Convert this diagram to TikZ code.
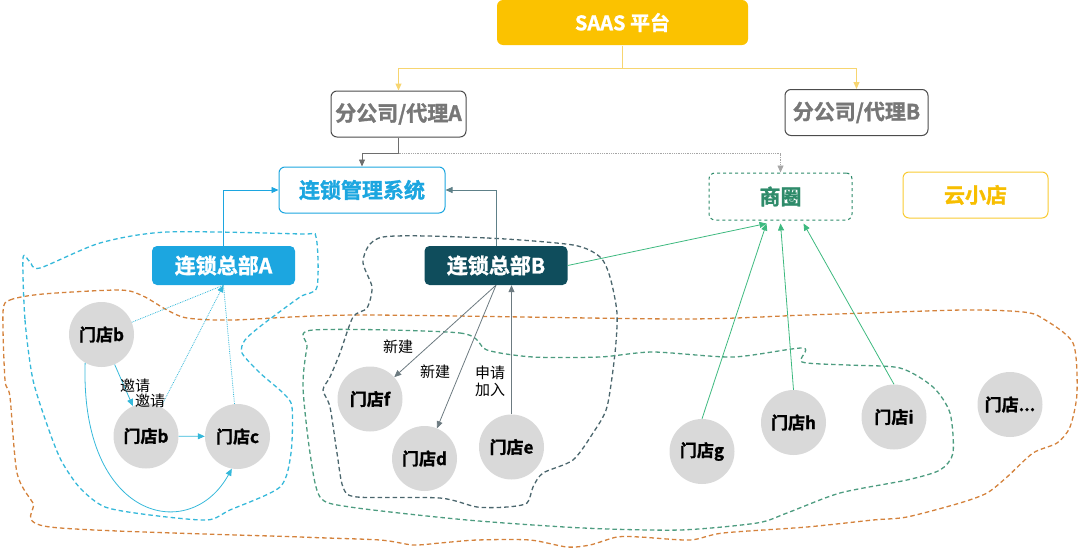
\documentclass[tikz,border=0pt]{standalone}
\usepackage{fontspec}
\setmainfont{Noto Sans CJK SC}[BoldFont={Noto Sans CJK SC Bold}, BoldFeatures={FakeBold=1.3}]
\usepackage{tikz}
\usetikzlibrary{arrows.meta, calc, positioning}
\definecolor{csaas}{HTML}{FBC200}
\definecolor{cyline}{HTML}{F7D570}
\definecolor{cgraytx}{HTML}{777777}
\definecolor{cgrayln}{HTML}{6E6E6E}
\definecolor{cslate}{HTML}{4A4F5A}
\definecolor{cblue}{HTML}{1CA6E0}
\definecolor{ccyan}{HTML}{35B8DA}
\definecolor{cteal}{HTML}{0F4D5C}
\definecolor{ctealln}{HTML}{5E8088}
\definecolor{cgreen}{HTML}{2E8B6A}
\definecolor{cgreenln}{HTML}{3DB97F}
\definecolor{cyun}{HTML}{F7BE00}
\definecolor{corange}{HTML}{D4823C}
\definecolor{cshop}{HTML}{D9D9D9}
\definecolor{cbgray}{HTML}{6C7A80}

\begin{document}
\begin{tikzpicture}[
  x=1pt, y=-1pt,
  box/.style={
    rectangle, rounded corners=6pt, draw, fill=white,
    line width=1pt, minimum height=46pt, inner sep=0pt,
    font=\bfseries\fontsize{21}{24}\selectfont
  },
  hqbox/.style={
    rectangle, rounded corners=5pt, text=white,
    minimum width=143pt, minimum height=39pt, inner sep=0pt,
    font=\bfseries\fontsize{21}{24}\selectfont
  },
  shop/.style={
    circle, fill=cshop, minimum size=65pt, inner sep=0pt,
    font=\bfseries\fontsize{17}{19}\selectfont
  },
  tag/.style={inner sep=0pt, font=\fontsize{15}{17}\selectfont},
  tipS/.style={-{Triangle[length=7pt, width=6pt]}},
  arrowY/.style={tipS, draw=cyline, line width=1pt},
  arrowA/.style={tipS, draw=cgrayln, line width=0.8pt},
  arrowC/.style={tipS, draw=ccyan, line width=0.8pt},
  arrowB/.style={tipS, draw=cbgray, line width=0.8pt},
  arrowG/.style={tipS, draw=cgreenln, line width=0.8pt},
  zone/.style={dash pattern=on 4.5pt off 3pt, line width=1.3pt},
]
\useasboundingbox (0,0) rectangle (1080,549);

% ============================================================
% Dashed zones (drawn first, they sit behind everything)
\draw[zone, draw=corange] plot[smooth cycle, tension=0.45] coordinates {
  (3,312) (10,300) (43,294) (120,290) (143,296) (167,310) (187,318) (233,320)
  (360,315) (680,319) (807,315) (963,310) (1023,312) (1042,318) (1073,343)
  (1077,393) (1070,427) (1057,443) (1033,453) (1007,477) (987,493) (960,503)
  (907,517) (873,520) (807,527) (723,533) (690,540) (640,537) (617,537)
  (590,545) (567,547) (530,540) (477,540) (440,543) (413,545) (380,540)
  (300,537) (50,527) (33,503) (17,473) (10,397) (5,380)};

\draw[zone, draw=ccyan] plot[smooth cycle, tension=0.45] coordinates {
  (23,258) (25,320) (33,380) (50,433) (62,462) (80,488) (105,507) (150,515)
  (207,520) (230,510) (280,487) (291,453) (292,407) (283,393) (260,373)
  (242,353) (245,340) (262,325) (300,297) (317,287) (316,237) (300,234)
  (167,232) (100,243) (40,268) (30,262)};

\draw[zone, draw=ctealln!80!black] plot[smooth cycle, tension=0.45] coordinates {
  (383,237) (487,238) (573,245) (600,257) (610,277) (617,313) (615,353)
  (607,407) (593,433) (573,460) (543,473) (533,487) (527,503) (507,507)
  (477,507) (440,498) (357,497) (343,487) (337,453) (330,407) (323,390)
  (330,377) (340,353) (353,317) (367,308) (372,287) (363,260)};

\draw[zone, draw=cgreen!85] plot[smooth cycle, tension=0.45] coordinates {
  (313,330) (460,333) (487,350) (533,357) (600,357) (653,352) (733,357)
  (803,348) (802,362) (847,365) (900,368) (933,387) (950,413) (953,453)
  (940,470) (907,480) (840,493) (787,513) (757,523) (680,530) (583,528)
  (467,520) (350,507) (320,497) (310,453) (303,387) (307,347)};

% ============================================================
% Top: platform and the two agents
\node[box, draw=none, fill=csaas, text=white, minimum width=251pt,
  minimum height=45pt, font=\bfseries\fontsize{20}{24}\selectfont]
  (saas) at (622.5,22.5) {SAAS 平台};
\node[box, draw=black!70, text=cgraytx, minimum width=135pt] (agA) at (398.5,114) {分公司/代理A};
\node[box, draw=black!70, text=cgraytx, minimum width=143pt] (agB) at (856.5,112.5) {分公司/代理B};

\draw[arrowY] (saas.south) -- ++(0,23) -| (agA.north);
\draw[arrowY] (saas.south) -- ++(0,23) -| (agB.north);

% Middle row: system, business circle, cloud shop
\node[box, draw=cblue, text=cblue, minimum width=166pt] (sys) at (362,190) {连锁管理系统};
\node[box, draw=cgreen, dashed, text=cgreen, minimum width=143pt, minimum height=47pt] (quan) at (780.5,196.5) {商圈};
\node[box, draw=cyun!80, text=cyun, minimum width=145pt] (yun) at (975.5,195) {云小店};

\draw[arrowA] (agA.south) -- ++(0,16) -| (sys.north);
\draw[tipS, draw=gray!70, densely dotted, line width=0.8pt] (agA.south) ++(0,16) -| (quan.north);

% Headquarters
\node[hqbox, fill=cblue] (hqA) at (223.5,265.5) {连锁总部A};
\node[hqbox, fill=cteal] (hqB) at (496,265.5) {连锁总部B};

\draw[arrowC, draw=cblue] (hqA.north) |- (sys.west);
\draw[arrowB, draw=ctealln] (hqB.north) |- (sys.east);
\draw[arrowG] (hqB.east) -- ($(quan.south)+(-14,3)$);

% ============================================================
% Shops
\foreach \name/\xx/\yy/\lbl in {
  sb1/101.5/334.5/b, sb2/146/436/b, sc/237.5/436.5/c,
  sf/370/399/f, sd/424.5/458.5/d, se/511.5/447/e,
  sg/702/451.5/g, sh/793.5/422.5/h, si/894/417/i} {
  \node[shop] (\name) at (\xx,\yy) {门店\lbl};
}
\node[shop] (sx) at (1010,404.5) {门店...};

% Chain A: invitations
\draw[arrowC] (sb1) -- (sb2);
\draw[arrowC] (sb2) -- (sc);
\draw[arrowC] (sb1.-120) .. controls (80,520) and (190,545) .. (sc.-100);
\draw[ccyan, densely dotted, line width=0.8pt] (sb1) -- (hqA.south);
\draw[ccyan, densely dotted, line width=0.8pt] (sc) -- (hqA.south);
\draw[arrowC, densely dotted] (sb2) -- (hqA.south);
\node[tag] (inv1) at (135,386) {邀请};
\node[tag] (inv2) at (150,401) {邀请};

% Chain B: new shops and applications
\draw[arrowB] (hqB.south) -- (sf);
\draw[arrowB] (hqB.south) -- (sd);
\draw[arrowB] (se.north) -- (se |- hqB.south);
\node[tag] (new1) at (398,347) {新建};
\node[tag] (new2) at (435,372) {新建};
\node[tag, align=center] (join) at (490,381) {申请\\加入};

% Business circle members
\draw[arrowG] (sg.north) -- ($(quan.south)+(-14,3)$);
\draw[arrowG] (sh.north) -- ($(quan.south)+(0,3)$);
\draw[arrowG] (si.north) -- ($(quan.south)+(23,3)$);

\end{tikzpicture}
\end{document}
